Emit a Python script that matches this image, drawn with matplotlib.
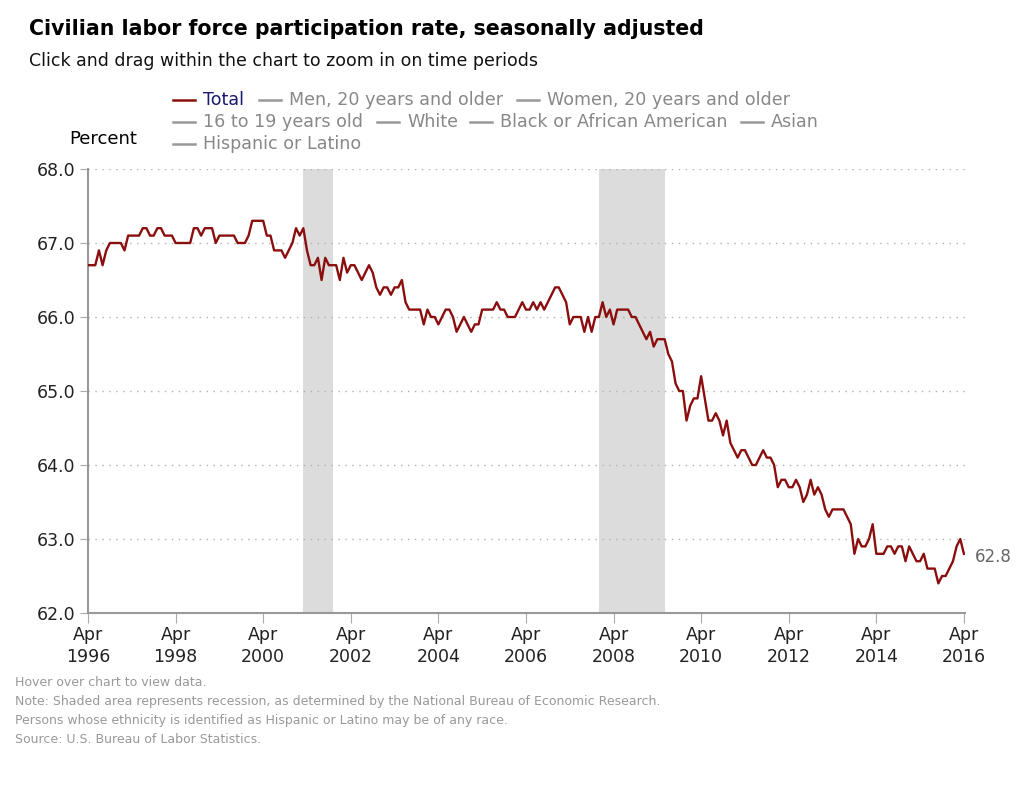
import matplotlib
matplotlib.use("Agg")
import matplotlib.pyplot as plt
from matplotlib.lines import Line2D
import numpy as np

# Civilian labor force participation rate, monthly, Apr 1996 - Apr 2016
rate_1996 = [66.7, 66.7, 66.7, 66.9, 66.7, 66.9, 67.0, 67.0, 67.0]
rate_1997 = [67.0, 66.9, 67.1, 67.1, 67.1, 67.1, 67.2, 67.2, 67.1, 67.1, 67.2, 67.2]
rate_1998 = [67.1, 67.1, 67.1, 67.0, 67.0, 67.0, 67.0, 67.0, 67.2, 67.2, 67.1, 67.2]
rate_1999 = [67.2, 67.2, 67.0, 67.1, 67.1, 67.1, 67.1, 67.1, 67.0, 67.0, 67.0, 67.1]
rate_2000 = [67.3, 67.3, 67.3, 67.3, 67.1, 67.1, 66.9, 66.9, 66.9, 66.8, 66.9, 67.0]
rate_2001 = [67.2, 67.1, 67.2, 66.9, 66.7, 66.7, 66.8, 66.5, 66.8, 66.7, 66.7, 66.7]
rate_2002 = [66.5, 66.8, 66.6, 66.7, 66.7, 66.6, 66.5, 66.6, 66.7, 66.6, 66.4, 66.3]
rate_2003 = [66.4, 66.4, 66.3, 66.4, 66.4, 66.5, 66.2, 66.1, 66.1, 66.1, 66.1, 65.9]
rate_2004 = [66.1, 66.0, 66.0, 65.9, 66.0, 66.1, 66.1, 66.0, 65.8, 65.9, 66.0, 65.9]
rate_2005 = [65.8, 65.9, 65.9, 66.1, 66.1, 66.1, 66.1, 66.2, 66.1, 66.1, 66.0, 66.0]
rate_2006 = [66.0, 66.1, 66.2, 66.1, 66.1, 66.2, 66.1, 66.2, 66.1, 66.2, 66.3, 66.4]
rate_2007 = [66.4, 66.3, 66.2, 65.9, 66.0, 66.0, 66.0, 65.8, 66.0, 65.8, 66.0, 66.0]
rate_2008 = [66.2, 66.0, 66.1, 65.9, 66.1, 66.1, 66.1, 66.1, 66.0, 66.0, 65.9, 65.8]
rate_2009 = [65.7, 65.8, 65.6, 65.7, 65.7, 65.7, 65.5, 65.4, 65.1, 65.0, 65.0, 64.6]
rate_2010 = [64.8, 64.9, 64.9, 65.2, 64.9, 64.6, 64.6, 64.7, 64.6, 64.4, 64.6, 64.3]
rate_2011 = [64.2, 64.1, 64.2, 64.2, 64.1, 64.0, 64.0, 64.1, 64.2, 64.1, 64.1, 64.0]
rate_2012 = [63.7, 63.8, 63.8, 63.7, 63.7, 63.8, 63.7, 63.5, 63.6, 63.8, 63.6, 63.7]
rate_2013 = [63.6, 63.4, 63.3, 63.4, 63.4, 63.4, 63.4, 63.3, 63.2, 62.8, 63.0, 62.9]
rate_2014 = [62.9, 63.0, 63.2, 62.8, 62.8, 62.8, 62.9, 62.9, 62.8, 62.9, 62.9, 62.7]
rate_2015 = [62.9, 62.8, 62.7, 62.7, 62.8, 62.6, 62.6, 62.6, 62.4, 62.5, 62.5, 62.6]
rate_2016 = [62.7, 62.9, 63.0, 62.8]

# recessions as (start, end) in months since Apr 1996
recessions = [(59, 67), (140, 158)]

tick_labels = ["Apr\n%d" % y for y in range(1996, 2017, 2)]
y_ticks = [62.0, 63.0, 64.0, 65.0, 66.0, 67.0, 68.0]

rates = (rate_1996 + rate_1997 + rate_1998 + rate_1999 + rate_2000 + rate_2001
         + rate_2002 + rate_2003 + rate_2004 + rate_2005 + rate_2006 + rate_2007
         + rate_2008 + rate_2009 + rate_2010 + rate_2011 + rate_2012 + rate_2013
         + rate_2014 + rate_2015 + rate_2016)
months = np.arange(len(rates))

plt.rcParams['font.family'] = ['DejaVu Sans']

fig = plt.figure(figsize=(10.24, 7.89), dpi=100)
ax = fig.add_axes([88 / 1024, 1 - 613 / 789, 877 / 1024, 444 / 789])

for start, end in recessions:
    ax.axvspan(start, end, color='#dcdcdc', lw=0, zorder=0)

ax.plot(months, rates, color='#8b0e0e', lw=1.7, zorder=3)

ax.set_xlim(0, 240.3)
ax.set_ylim(62.0, 68.0)
ax.set_xticks(range(0, 241, 24))
ax.set_xticklabels(tick_labels, fontsize=12.5, color='#222222', linespacing=1.35)
ax.set_yticks(y_ticks)
ax.set_yticklabels(["%.1f" % v for v in y_ticks], fontsize=12.5, color='#222222')

ax.grid(axis='y', linestyle=(0, (1, 4)), color='#b0b0b0', lw=1)
for s in ['top', 'right']:
    ax.spines[s].set_visible(False)
ax.spines['left'].set_color('#999999')
ax.spines['bottom'].set_color('#999999')
ax.spines['left'].set_linewidth(1.5)
ax.spines['bottom'].set_linewidth(1.5)
ax.tick_params(axis='x', length=7, color='#aaaaaa', pad=2)
ax.tick_params(axis='y', length=6, color='#aaaaaa', pad=3)

ax.annotate("%.1f" % rates[-1], xy=(months[-1], rates[-1]), xytext=(8, -2),
            textcoords='offset points', fontsize=12, color='#666666', va='center')

# titles
fig.text(29 / 1024, 1 - 29 / 789, "Civilian labor force participation rate, seasonally adjusted",
         fontsize=14.8, fontweight='bold', va='center')
fig.text(29 / 1024, 1 - 61 / 789, "Click and drag within the chart to zoom in on time periods",
         fontsize=12.5, va='center', color='#111111')
fig.text(69 / 1024, 1 - 139 / 789, "Percent", fontsize=13, va='center')

# legend
legend_items = [
    ("Total", 173, 100, '#8b0e0e', '#1a1a6e'),
    ("Men, 20 years and older", 259, 100, '#999999', '#888888'),
    ("Women, 20 years and older", 517, 100, '#999999', '#888888'),
    ("16 to 19 years old", 173, 122, '#999999', '#888888'),
    ("White", 377, 122, '#999999', '#888888'),
    ("Black or African American", 470, 122, '#999999', '#888888'),
    ("Asian", 741, 122, '#999999', '#888888'),
    ("Hispanic or Latino", 173, 144, '#999999', '#888888'),
]
for label, x0, y0, lc, tc in legend_items:
    fig.add_artist(Line2D([x0 / 1024, (x0 + 22) / 1024], [1 - y0 / 789, 1 - y0 / 789],
                          color=lc, lw=1.8, transform=fig.transFigure))
    fig.text((x0 + 30) / 1024, 1 - y0 / 789, label, fontsize=12.6, color=tc,
             va='center')

notes = [
    "Hover over chart to view data.",
    "Note: Shaded area represents recession, as determined by the National Bureau of Economic Research.",
    "Persons whose ethnicity is identified as Hispanic or Latino may be of any race.",
    "Source: U.S. Bureau of Labor Statistics.",
]
for i, note in enumerate(notes):
    fig.text(15 / 1024, 1 - (682 + 19.3 * i) / 789, note, fontsize=9,
             color='#999999', va='center')

fig.savefig("out.png", dpi=100)
